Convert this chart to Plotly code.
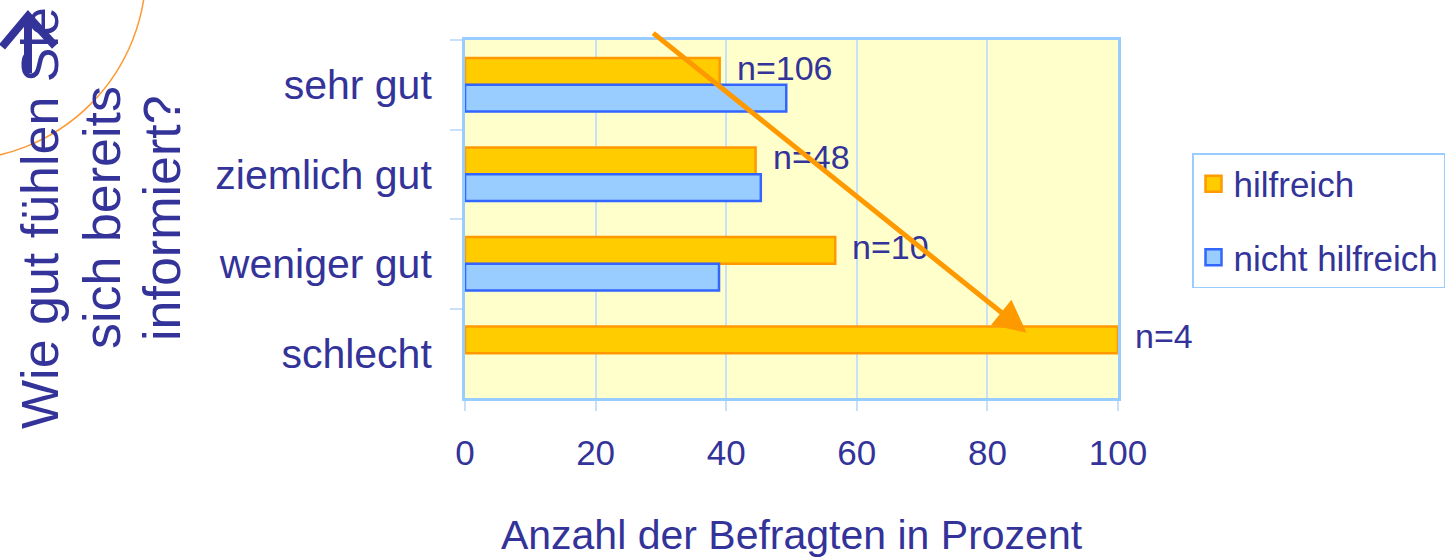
import plotly.graph_objects as go

categories = ["sehr gut", "ziemlich gut", "weniger gut", "schlecht"]
hilfreich = [39, 44.5, 56.7, 100]
nicht_hilfreich = [49.2, 45.3, 38.9, 0]
n_labels = ["n=106", "n=48", "n=10", "n=4"]
x_ticks = [0, 20, 40, 60, 80, 100]
series_names = ["hilfreich", "nicht hilfreich"]

TXT = "#333399"
FONT = "Arial, Liberation Sans, sans-serif"
OR_FILL, OR_LINE = "#FFCC00", "#FF9900"
BL_FILL, BL_LINE = "#99CCFF", "#3366FF"
AXC = "#99CCFF"

W, H = 1452, 558
ML, MR, MT, MB = 465, 334, 40, 160
PW, PH = W - ML - MR, H - MT - MB


def px(x):
    return (x - ML) / PW


def py(y):
    return (H - MB - y) / PH


fig = go.Figure()
fig.add_trace(go.Bar(y=categories, x=hilfreich, orientation="h", name=series_names[0],
                     marker=dict(color=OR_FILL, line=dict(color=OR_LINE, width=2.5)),
                     showlegend=False, hoverinfo="skip"))
fig.add_trace(go.Bar(y=categories, x=nicht_hilfreich, orientation="h", name=series_names[1],
                     marker=dict(color=BL_FILL,
                                 line=dict(color=BL_LINE,
                                           width=[2.5 if v > 0 else 0 for v in nicht_hilfreich])),
                     showlegend=False, hoverinfo="skip"))
# legend proxies (larger square symbols)
for nm, fc, lc in [(series_names[0], OR_FILL, OR_LINE), (series_names[1], BL_FILL, BL_LINE)]:
    fig.add_trace(go.Scatter(x=[None], y=[None], mode="markers", name=nm, legendgroup=nm,
                             marker=dict(symbol="square", size=20, color=fc,
                                         line=dict(color=lc, width=2.5))))

# n annotations
for c, v, t in zip(categories, hilfreich, n_labels):
    fig.add_annotation(x=v, y=c, xref="x", yref="y", text=t, showarrow=False,
                       xanchor="left", xshift=15, yshift=17,
                       font=dict(family=FONT, size=34, color=TXT))

# diagonal orange arrow
fig.add_annotation(x=86, y=2.77, ax=28.6, ay=-0.59, xref="x", yref="y", axref="x", ayref="y",
                   text="", showarrow=True, arrowhead=2, arrowsize=1.3, arrowwidth=5,
                   arrowcolor=OR_LINE)

# y title, three lines
for txt, xc in [("Wie gut fühlen Sie", 40), ("sich bereits", 102), ("informiert?", 162)]:
    fig.add_annotation(x=px(xc), y=py(218), xref="paper", yref="paper", text=txt,
                       textangle=-90, showarrow=False, xanchor="center", yanchor="middle",
                       font=dict(family=FONT, size=52, color=TXT))

# decorative arc
fig.add_shape(type="circle", xref="paper", yref="paper",
              x0=px(-234), x1=px(146), y0=py(160), y1=py(-220),
              line=dict(color="#FF9933", width=1.5), layer="above")
# decorative up-arrow icon
path = (f"M {px(2)},{py(47)} L {px(28)},{py(16)} L {px(55)},{py(46)} "
        f"M {px(28)},{py(16)} L {px(28)},{py(73)}")
fig.add_shape(type="path", xref="paper", yref="paper", path=path,
              line=dict(color=TXT, width=8), layer="above")

fig.update_layout(
    width=W, height=H,
    margin=dict(l=ML, r=MR, t=MT, b=MB, pad=0, autoexpand=False),
    paper_bgcolor="white", plot_bgcolor="#FFFFCC",
    barmode="group", bargap=0.4, bargroupgap=0,
    font=dict(family=FONT, color=TXT),
    showlegend=True,
    legend=dict(x=px(1192), y=py(153), xanchor="left", yanchor="top",
                bordercolor=AXC, borderwidth=1.5, bgcolor="white",
                font=dict(family=FONT, size=35, color=TXT),
                tracegroupgap=25, traceorder="grouped"),
    xaxis=dict(range=[0, 100], tickvals=x_ticks, ticktext=[str(v) for v in x_ticks],
               showgrid=True, gridcolor="#C8E0FA", gridwidth=1.5,
               showline=True, linecolor=AXC, linewidth=3, mirror=True,
               ticks="outside", ticklen=10, tickcolor="#C8E0FA", tickwidth=1.5,
               tickfont=dict(family=FONT, size=35, color=TXT), ticklabelstandoff=12,
               zeroline=False, automargin=False,
               title=dict(text="Anzahl der Befragten in Prozent", standoff=50,
                          font=dict(family=FONT, size=41, color=TXT))),
    yaxis=dict(type="category", categoryorder="array", categoryarray=categories,
               range=[3.5, -0.5], showgrid=False, automargin=False,
               showline=True, linecolor=AXC, linewidth=3, mirror=True,
               ticks="outside", tickson="boundaries", ticklen=12, tickcolor="#C8E0FA",
               tickwidth=1.5, ticklabelstandoff=22,
               tickfont=dict(family=FONT, size=41, color=TXT)),
)

fig.write_html("out.html", config={"displayModeBar": False},
               post_script="document.body.style.margin='0';")
